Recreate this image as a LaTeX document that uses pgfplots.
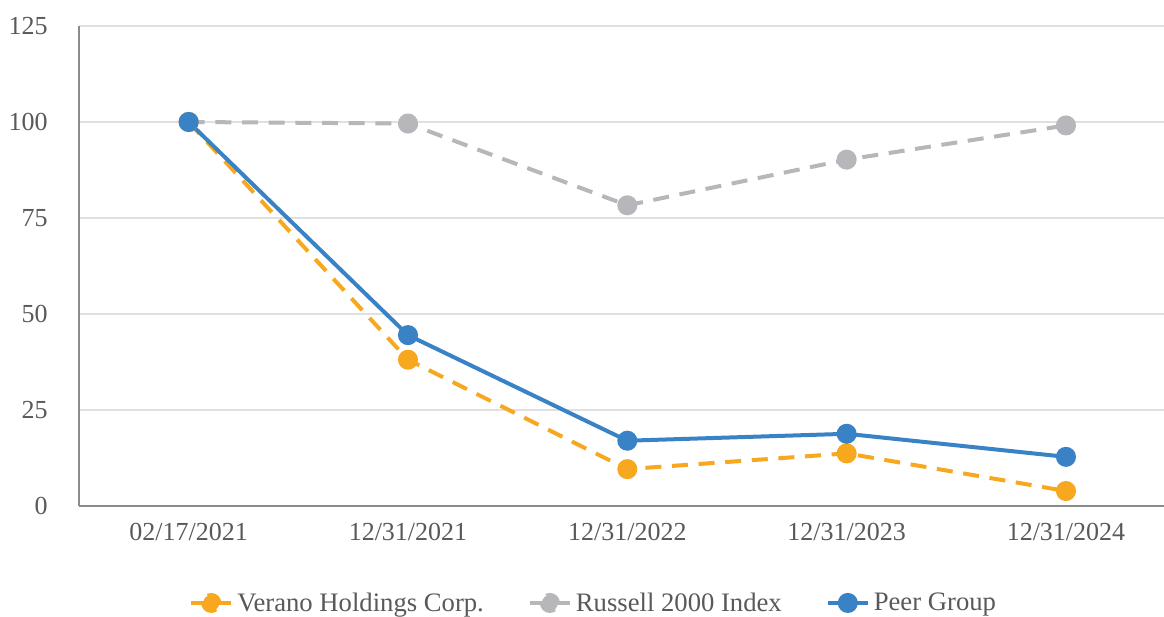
\documentclass[border=0pt]{standalone}
\usepackage{pgfplots}
\pgfplotsset{compat=1.18}
\usepackage{fontspec}
\setmainfont{Liberation Serif}
\definecolor{verano}{RGB}{247,168,30}
\definecolor{russell}{RGB}{182,182,187}
\definecolor{peer}{RGB}{58,130,198}
\definecolor{txt}{RGB}{89,89,89}
\definecolor{gridc}{RGB}{224,224,224}
\definecolor{axc}{RGB}{140,140,140}
\begin{document}
\begin{tikzpicture}
\begin{axis}[
  name=ax,
  scale only axis,
  width=813.75pt, height=360pt,
  xmin=-0.5, xmax=4.447,
  ymin=0, ymax=125,
  ytick={0,25,...,125},
  xtick={0,1,2,3,4},
  xticklabels={02/17/2021,12/31/2021,12/31/2022,12/31/2023,12/31/2024},
  axis x line*=bottom, axis y line*=left,
  axis line style={axc, line width=1.5pt},
  ymajorgrids, grid style={gridc, line width=1.2pt},
  major tick length=0pt,
  tick label style={font=\fontsize{19.5}{23}\selectfont, text=txt},
  /pgf/number format/assume math mode=true,
  yticklabel style={xshift=-20pt},
  xticklabel style={yshift=-9pt},
  clip=false,
  legend columns=3,
  legend style={at={(axis description cs:0.0977,-0.202)}, anchor=west,
    draw=none, font=\fontsize{20}{24}\selectfont, text=txt,
    nodes={inner xsep=3pt},
    /tikz/every even column/.append style={column sep=30pt}},
  legend image code/.code={
    \draw[solid, line width=3pt] (0pt,0pt) -- (30pt,0pt);
    \fill (15pt,0pt) circle (6pt);
  },
  every axis plot/.append style={line width=3pt, mark=*, mark size=6pt,
    mark options={solid}},
]
\addplot[verano, dash pattern=on 12pt off 8pt] coordinates {(0,100) (1,38.1) (2,9.6) (3,13.7) (4,3.9)};
\addplot[russell, dash pattern=on 12pt off 8pt] coordinates {(0,100) (1,99.6) (2,78.3) (3,90.2) (4,99.1)};
\addplot[peer] coordinates {(0,100) (1,44.5) (2,17.0) (3,18.8) (4,12.8)};
\legend{Verano Holdings Corp., Russell 2000 Index, Peer Group}
\end{axis}
\pgfresetboundingbox
\path[use as bounding box] ([xshift=-59.25pt,yshift=-83.25pt]ax.south west) rectangle ([yshift=19.5pt]ax.north east);
\end{tikzpicture}
\end{document}
